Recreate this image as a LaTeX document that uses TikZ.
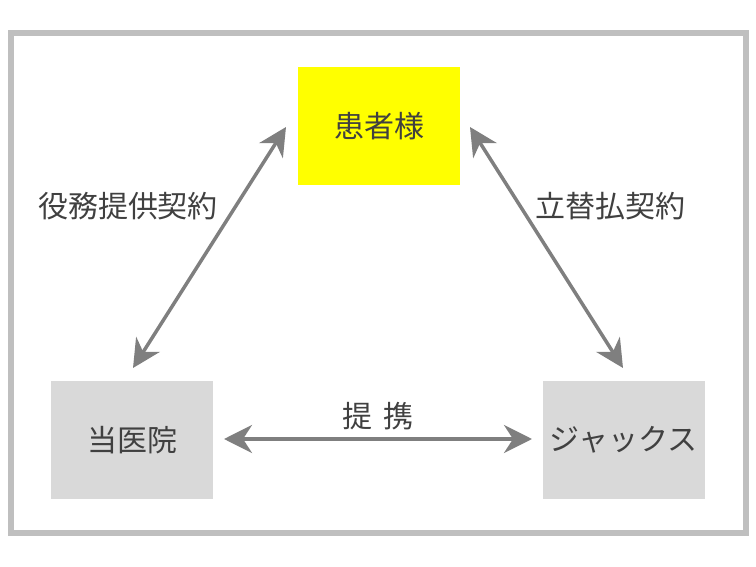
\documentclass[tikz,border=0pt]{standalone}
\usepackage{fontspec}
\newfontfamily\jp{Noto Sans CJK JP}
\usetikzlibrary{arrows.meta}
\definecolor{framegray}{HTML}{BFBFBF}
\definecolor{boxgray}{HTML}{D9D9D9}
\definecolor{arrowgray}{HTML}{7F7F7F}
\definecolor{textgray}{HTML}{404040}
\definecolor{brightyellow}{HTML}{FFFF00}
\tikzset{
  party/.style={minimum width=162pt, minimum height=118pt, inner sep=0pt, text=textgray, font=\jp\fontsize{30}{33}\selectfont},
  lbl/.style={inner sep=0pt, text=textgray, font=\jp\fontsize{30}{33}\selectfont},
  link/.style={draw=arrowgray, line width=3.5pt, {Stealth[length=28pt,width=28pt,inset=9pt]}-{Stealth[length=28pt,width=28pt,inset=9pt]}}
}
\begin{document}
\begin{tikzpicture}[x=1pt,y=-1pt]
\useasboundingbox (0,0) rectangle (756,567);
\draw[framegray, line width=6pt] (11,33) rectangle (746,533);
\node[party, fill=brightyellow] (patient) at (379,126) {患者様};
\node[party, fill=boxgray] (clinic) at (132,440) {当医院};
\node[party, fill=boxgray] (jaccs) at (623.5,440) {ジャックス};
\coordinate (l1) at (133,368);
\coordinate (l2) at (286,127);
\coordinate (r1) at (470,127);
\coordinate (r2) at (623,368);
\coordinate (h1) at (224,439);
\coordinate (h2) at (532,439);
\draw[link] (l1) -- (l2);
\draw[link] (r1) -- (r2);
\draw[link] (h1) -- (h2);
\node[lbl] (lblL) at (128,206) {役務提供契約};
\node[lbl] (lblR) at (610,206) {立替払契約};
\node[lbl] (lblH) at (378,416) {提\hspace{0.35em}携};
\end{tikzpicture}
\end{document}
